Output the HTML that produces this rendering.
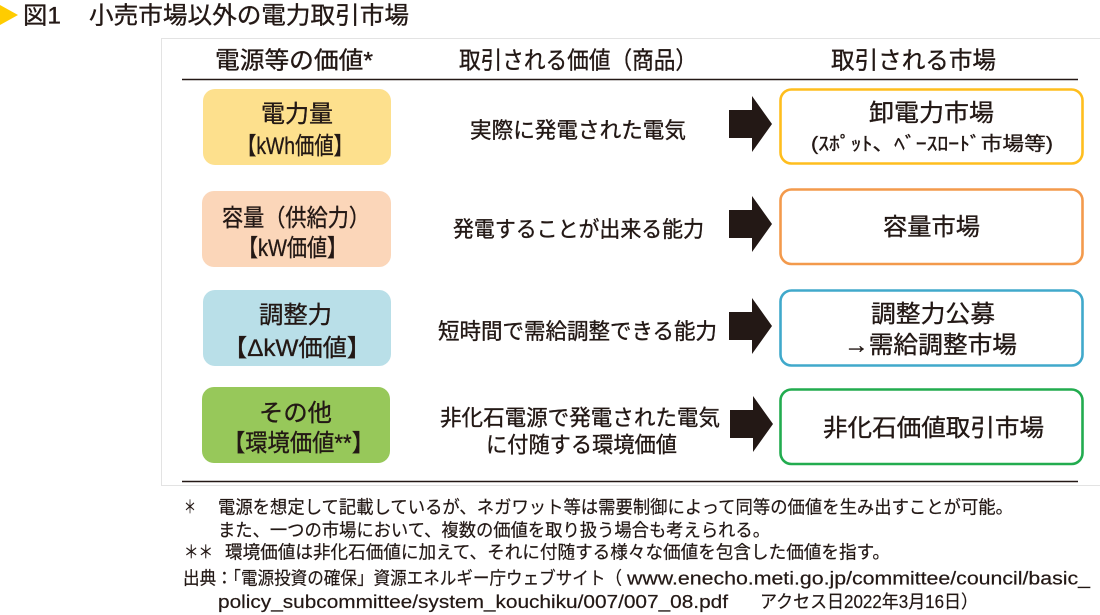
<!DOCTYPE html>
<html lang="ja">
<head>
<meta charset="utf-8">
<style>
  html,body{margin:0;padding:0;background:#fff;}
  body{width:1100px;height:615px;overflow:hidden;}
  svg{display:block;}
  text{font-family:"Liberation Sans","Noto Sans CJK JP",sans-serif;fill:#231815;}
  .m{stroke:#231815;stroke-width:0.35;}
  .f{stroke:#231815;stroke-width:0.2;}
</style>
</head>
<body>
<svg width="1100" height="615" viewBox="0 0 1100 615" xmlns="http://www.w3.org/2000/svg">
  <!-- title -->
  <polygon points="0,5 18,15 0,25" fill="#FFCC00"/>
  <text class="m" x="23" y="23.5" font-size="24" textLength="38" lengthAdjust="spacingAndGlyphs">図1</text>
  <text class="m" x="89" y="23.5" font-size="24" textLength="320" lengthAdjust="spacingAndGlyphs">小売市場以外の電力取引市場</text>

  <!-- frame -->
  <path d="M1100.5 38.5 H161.5 V485.5 H1100" fill="none" stroke="#e3e3e3" stroke-width="1"/>

  <!-- header -->
  <text class="m" x="215" y="68.5" font-size="24" textLength="158" lengthAdjust="spacingAndGlyphs">電源等の価値*</text>
  <text class="m" x="459" y="68.5" font-size="24" textLength="238" lengthAdjust="spacingAndGlyphs">取引される価値（商品）</text>
  <text class="m" x="831" y="68.5" font-size="24" textLength="165" lengthAdjust="spacingAndGlyphs">取引される市場</text>
  <line x1="182" y1="79.5" x2="1078" y2="79.5" stroke="#231815" stroke-width="1.6"/>
  <line x1="182" y1="481.5" x2="1078" y2="481.5" stroke="#231815" stroke-width="1.6"/>

  <!-- left boxes -->
  <rect x="203" y="89" width="188" height="76" rx="12" fill="#FDE08D"/>
  <rect x="202" y="191" width="189" height="76" rx="12" fill="#FBD6B9"/>
  <rect x="203" y="290" width="188" height="76" rx="12" fill="#B9DFE8"/>
  <rect x="202" y="387" width="188" height="76" rx="12" fill="#97C85A"/>

  <text class="m" x="261" y="122" font-size="24" textLength="72" lengthAdjust="spacingAndGlyphs">電力量</text>
  <text class="m" x="237" y="154" font-size="24" textLength="116" lengthAdjust="spacingAndGlyphs">【kWh価値】</text>
  <text class="m" x="222" y="226" font-size="24" textLength="148" lengthAdjust="spacingAndGlyphs">容量（供給力）</text>
  <text class="m" x="238" y="256" font-size="24" textLength="109" lengthAdjust="spacingAndGlyphs">【kW価値】</text>
  <text class="m" x="259" y="323" font-size="24" textLength="73" lengthAdjust="spacingAndGlyphs">調整力</text>
  <text class="m" x="223" y="356" font-size="24" textLength="148" lengthAdjust="spacingAndGlyphs">【ΔkW価値】</text>
  <text class="m" x="259" y="421" font-size="24" textLength="73" lengthAdjust="spacingAndGlyphs">その他</text>
  <text class="m" x="223" y="451" font-size="24" textLength="151" lengthAdjust="spacingAndGlyphs">【環境価値**】</text>

  <!-- middle texts -->
  <text class="m" x="470" y="138" font-size="22" textLength="216" lengthAdjust="spacingAndGlyphs">実際に発電された電気</text>
  <text class="m" x="453" y="237" font-size="22" textLength="251" lengthAdjust="spacingAndGlyphs">発電することが出来る能力</text>
  <text class="m" x="438" y="339" font-size="22" textLength="279" lengthAdjust="spacingAndGlyphs">短時間で需給調整できる能力</text>
  <text class="m" x="440" y="425.5" font-size="22" textLength="280" lengthAdjust="spacingAndGlyphs">非化石電源で発電された電気</text>
  <text class="m" x="486" y="452.5" font-size="22" textLength="191" lengthAdjust="spacingAndGlyphs">に付随する環境価値</text>

  <!-- arrows -->
  <g fill="#231815">
    <polygon points="729,110 752,110 752,96 772,124 752,152 752,138 729,138"/>
    <polygon points="729,210 752,210 752,196 772,224 752,252 752,238 729,238"/>
    <polygon points="729,312 752,312 752,298 772,326 752,354 752,340 729,340"/>
    <polygon points="730,410 753,410 753,396 773,424 753,452 753,438 730,438"/>
  </g>

  <!-- right boxes -->
  <rect x="780.5" y="89.5" width="302" height="74" rx="11" fill="#fff" stroke="#FFBE1E" stroke-width="2.6"/>
  <rect x="780.5" y="189.5" width="302" height="74.5" rx="11" fill="#fff" stroke="#F39A4C" stroke-width="2.6"/>
  <rect x="780.5" y="290.5" width="302" height="75" rx="11" fill="#fff" stroke="#40A9CB" stroke-width="2.6"/>
  <rect x="780.5" y="389.5" width="302" height="74.5" rx="11" fill="#fff" stroke="#22AC4F" stroke-width="2.6"/>

  <text class="m" x="869" y="121" font-size="24" textLength="125" lengthAdjust="spacingAndGlyphs">卸電力市場</text>
  <text class="m" x="811" y="150" font-size="19" textLength="242" lengthAdjust="spacingAndGlyphs">(ｽﾎﾟｯﾄ、ﾍﾞｰｽﾛｰﾄﾞ市場等)</text>
  <text class="m" x="883" y="235" font-size="24" textLength="97" lengthAdjust="spacingAndGlyphs">容量市場</text>
  <text class="m" x="871" y="322" font-size="24" textLength="124" lengthAdjust="spacingAndGlyphs">調整力公募</text>
  <text class="m" x="844" y="353" font-size="24" textLength="173" lengthAdjust="spacingAndGlyphs">→需給調整市場</text>
  <text class="m" x="823" y="436" font-size="24" textLength="221" lengthAdjust="spacingAndGlyphs">非化石価値取引市場</text>

  <!-- footnotes -->
  <text class="f" x="184" y="513.5" font-size="18" textLength="12" lengthAdjust="spacingAndGlyphs">＊</text>
  <text class="f" x="218" y="513.5" font-size="18" textLength="795" lengthAdjust="spacingAndGlyphs">電源を想定して記載しているが、ネガワット等は需要制御によって同等の価値を生み出すことが可能。</text>
  <text class="f" x="218" y="536.5" font-size="18" textLength="552" lengthAdjust="spacingAndGlyphs">また、一つの市場において、複数の価値を取り扱う場合も考えられる。</text>
  <text class="f" x="184" y="558.5" font-size="18" textLength="29" lengthAdjust="spacingAndGlyphs">＊＊</text>
  <text class="f" x="225" y="558.5" font-size="18" textLength="665" lengthAdjust="spacingAndGlyphs">環境価値は非化石価値に加えて、それに付随する様々な価値を包含した価値を指す。</text>
  <text class="f" x="183" y="584.5" font-size="18" textLength="439" lengthAdjust="spacingAndGlyphs">出典：「電源投資の確保」資源エネルギー庁ウェブサイト（</text>
  <text class="f" x="627" y="584.5" font-size="18" textLength="463" lengthAdjust="spacingAndGlyphs">www.enecho.meti.go.jp/committee/council/basic_</text>
  <text class="f" x="218" y="608" font-size="18" textLength="510" lengthAdjust="spacingAndGlyphs">policy_subcommittee/system_kouchiku/007/007_08.pdf</text>
  <text class="f" x="760" y="608" font-size="18" textLength="218" lengthAdjust="spacingAndGlyphs">アクセス日2022年3月16日）</text>
</svg>
</body>
</html>
